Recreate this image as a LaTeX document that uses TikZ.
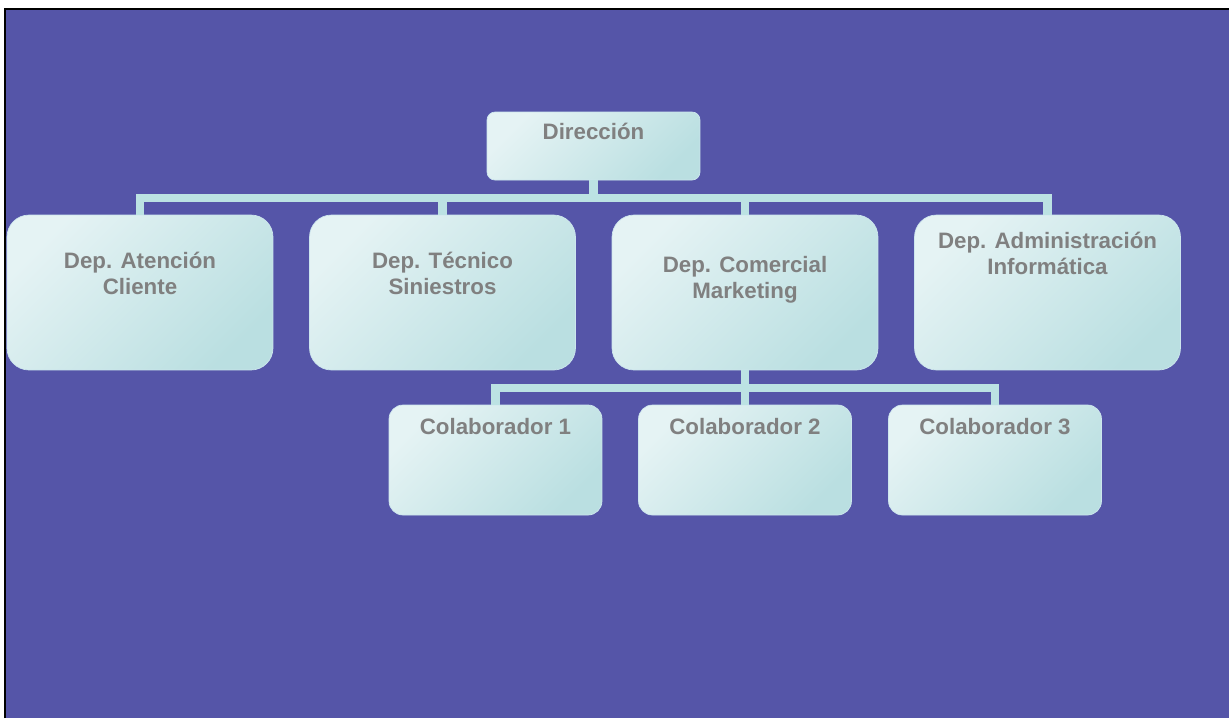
\documentclass[tikz,border=0pt]{standalone}
\usepackage{fontspec}
\setmainfont{Liberation Sans}
\usepackage{tikz}
\usetikzlibrary{positioning, calc}

\definecolor{bgpurple}{HTML}{5555A8}
\definecolor{boxlight}{HTML}{E5F3F4}
\definecolor{boxdark}{HTML}{BADFE1}
\definecolor{boxedge}{HTML}{CDE6EE}
\definecolor{linkcol}{HTML}{BCE2E3}
\definecolor{txtgray}{HTML}{808080}

\tikzset{
  box/.style={draw=boxedge, line width=0.4pt, top color=boxlight, bottom color=boxdark, shading angle=45, inner sep=0pt},
  dept/.style={box, minimum width=5.32cm, minimum height=3.1cm, rounded corners=0.44cm},
  head/.style={box, minimum width=4.26cm, minimum height=1.36cm, rounded corners=0.16cm},
  colab/.style={box, minimum width=4.26cm, minimum height=2.2cm, rounded corners=0.28cm},
  lbl/.style={anchor=base, align=center, text=txtgray, font=\fontsize{12.7}{14.3}\selectfont\bfseries},
  link/.style={draw=linkcol, line width=0.17cm}
}

\begin{document}
\begin{tikzpicture}[x=0.02cm, y=-0.02cm]
  \useasboundingbox (0,0) rectangle (1229,718);
  % page and slide background
  \fill[white] (0,0) rectangle (1229,718);
  \fill[bgpurple] (5,9) rectangle (1229,718);
  \draw[black, line width=0.04cm] (5,718) -- (5,9) -- (1229,9);

  % boxes
  \node[head] (dir) at (593.5,146) {};
  \node[dept] (atc) at (140,292.5) {};
  \node[dept] (tec) at (442.5,292.5) {};
  \node[dept] (com) at (745,292.5) {};
  \node[dept] (adm) at (1047.5,292.5) {};
  \node[colab] (c1) at (495.5,460) {};
  \node[colab] (c2) at (745,460) {};
  \node[colab] (c3) at (995,460) {};

  % connectors
  \coordinate (busA) at (593.5,198);
  \coordinate (busB) at (745,388);
  \draw[link] (dir.south) -- (busA);
  \foreach \d in {atc, tec, com, adm}
    \draw[link] (busA) -| (\d.north);
  \draw[link] (com.south) -- (busB);
  \foreach \c in {c1, c2, c3}
    \draw[link] (busB) -| (\c.north);

  % labels (base = last line)
  \node[lbl] at (593.5,139) {Dirección};
  \node[lbl] at (140,294) {Dep. Atención\\Cliente};
  \node[lbl] at (442.5,294) {Dep. Técnico\\Siniestros};
  \node[lbl] at (745,298) {Dep. Comercial\\Marketing};
  \node[lbl] at (1047.5,274) {Dep. Administración\\Informática};
  \node[lbl] at (495.5,434) {Colaborador 1};
  \node[lbl] at (745,434) {Colaborador 2};
  \node[lbl] at (995,434) {Colaborador 3};
\end{tikzpicture}
\end{document}
